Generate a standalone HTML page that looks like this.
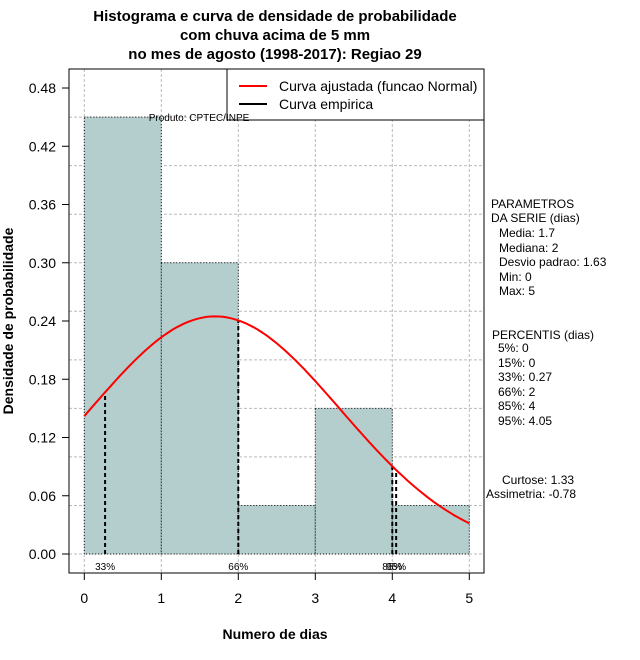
<!DOCTYPE html>
<html><head><meta charset="utf-8"><style>
html,body{margin:0;padding:0;background:#fff;}
svg{display:block;font-family:"Liberation Sans",sans-serif;}
</style></head><body>
<svg id="chart" width="640" height="660" viewBox="0 0 640 660" xmlns="http://www.w3.org/2000/svg">
<g font-weight="bold" font-size="15" text-anchor="middle">
<text x="275" y="21">Histograma e curva de densidade de probabilidade</text>
<text x="275" y="40">com chuva acima de 5 mm</text>
<text x="275" y="59">no mes de agosto (1998-2017): Regiao 29</text>
</g>
<g id="grid"></g>
<g id="bars"></g>
<g id="pct"></g>
<path id="curve" fill="none" stroke="#ff0000" stroke-width="2"/>
<rect x="69" y="69" width="415" height="504" fill="none" stroke="#000" stroke-width="1"/>
<g id="axes"></g>
<g>
<rect x="227" y="69" width="257" height="51" fill="#fff" stroke="#000"/>
<line x1="239" y1="86" x2="267" y2="86" stroke="#ff0000" stroke-width="2"/>
<text x="279" y="91" font-size="14">Curva ajustada (funcao Normal)</text>
<line x1="239" y1="104" x2="267" y2="104" stroke="#000" stroke-width="2"/>
<text x="279" y="109" font-size="14">Curva empirica</text>
</g>
<text x="199" y="121" font-size="10" text-anchor="middle">Produto: CPTEC/INPE</text>
<text x="275" y="639" font-size="14" font-weight="bold" text-anchor="middle">Numero de dias</text>
<text transform="translate(13,321) rotate(-90)" font-size="14" font-weight="bold" text-anchor="middle">Densidade de probabilidade</text>
<g font-size="12">
<text x="491" y="208">PARAMETROS</text>
<text x="491" y="222">DA SERIE (dias)</text>
<text x="499" y="237">Media: 1.7</text>
<text x="499" y="252">Mediana: 2</text>
<text x="499" y="266">Desvio padrao: 1.63</text>
<text x="499" y="281">Min: 0</text>
<text x="499" y="295">Max: 5</text>
<text x="492" y="339">PERCENTIS (dias)</text>
<text x="498" y="352">5%: 0</text>
<text x="498" y="367">15%: 0</text>
<text x="498" y="381">33%: 0.27</text>
<text x="498" y="396">66%: 2</text>
<text x="498" y="410">85%: 4</text>
<text x="498" y="425">95%: 4.05</text>
<text x="502" y="484">Curtose: 1.33</text>
<text x="486" y="498">Assimetria: -0.78</text>
</g>
</svg>
<script>
const binEdges=[0,1,2,3,4,5];
const binDensity=[0.45,0.30,0.05,0.15,0.05];
const yTicks=[0,0.06,0.12,0.18,0.24,0.30,0.36,0.42,0.48];
const yTickLabels=["0.00","0.06","0.12","0.18","0.24","0.30","0.36","0.42","0.48"];
const xTicks=[0,1,2,3,4,5];
const yGrid=[0,0.05,0.10,0.15,0.20,0.25,0.30,0.35,0.40,0.45];
const fitMean=1.7;
const fitSd=1.63;
const pctValues=[0.27,2,4,4.05];
const pctLabels=["33%","66%","85%","95%"];

const NS="http://www.w3.org/2000/svg";
const X=v=>84.3+v*77;
const Y=v=>554-v*970.8;
function mk(tag,attrs,parent){const e=document.createElementNS(NS,tag);for(const k in attrs)e.setAttribute(k,attrs[k]);parent.appendChild(e);return e;}
const dens=x=>Math.exp(-0.5*((x-fitMean)/fitSd)**2)/(fitSd*Math.sqrt(2*Math.PI));

const grid=document.getElementById('grid');
yGrid.forEach(v=>{const l=mk('line',{x1:69,x2:484,y1:Y(v),y2:Y(v),stroke:'#bbb','stroke-dasharray':'3,2'},grid);

});
xTicks.forEach(v=>{const l=mk('line',{x1:X(v),x2:X(v),y1:69,y2:573,stroke:'#bbb','stroke-dasharray':'3,2'},grid);

});

const bars=document.getElementById('bars');
binDensity.forEach((d,i)=>{const r=mk('rect',{x:X(binEdges[i]),y:Y(d),width:X(binEdges[i+1])-X(binEdges[i]),height:Y(0)-Y(d),fill:'#b4cece',stroke:'#000','stroke-width':1,'stroke-dasharray':'1,2'},bars);

});

const pct=document.getElementById('pct');
pctValues.forEach((v,i)=>{const l=mk('line',{x1:X(v),x2:X(v),y1:Y(0),y2:Y(dens(v)),stroke:'#000','stroke-width':2,'stroke-dasharray':'4,3'},pct);


const t=mk('text',{x:X(v),y:570,'font-size':10,'text-anchor':'middle'},pct);t.textContent=pctLabels[i];

});

let d='';for(let i=0;i<=100;i++){const x=5*i/100;d+=(i?'L':'M')+X(x).toFixed(1)+','+Y(dens(x)).toFixed(1);}
document.getElementById('curve').setAttribute('d',d);

const axes=document.getElementById('axes');
yTicks.forEach((v,i)=>{mk('line',{x1:62,x2:69,y1:Y(v),y2:Y(v),stroke:'#000'},axes);
const t=mk('text',{x:56,y:Y(v)+5,'font-size':14,'text-anchor':'end'},axes);t.textContent=yTickLabels[i];

});
xTicks.forEach(v=>{mk('line',{x1:X(v),x2:X(v),y1:573,y2:580,stroke:'#000'},axes);
const t=mk('text',{x:X(v),y:603,'font-size':14,'text-anchor':'middle'},axes);t.textContent=v;

});
</script>
</body></html>
